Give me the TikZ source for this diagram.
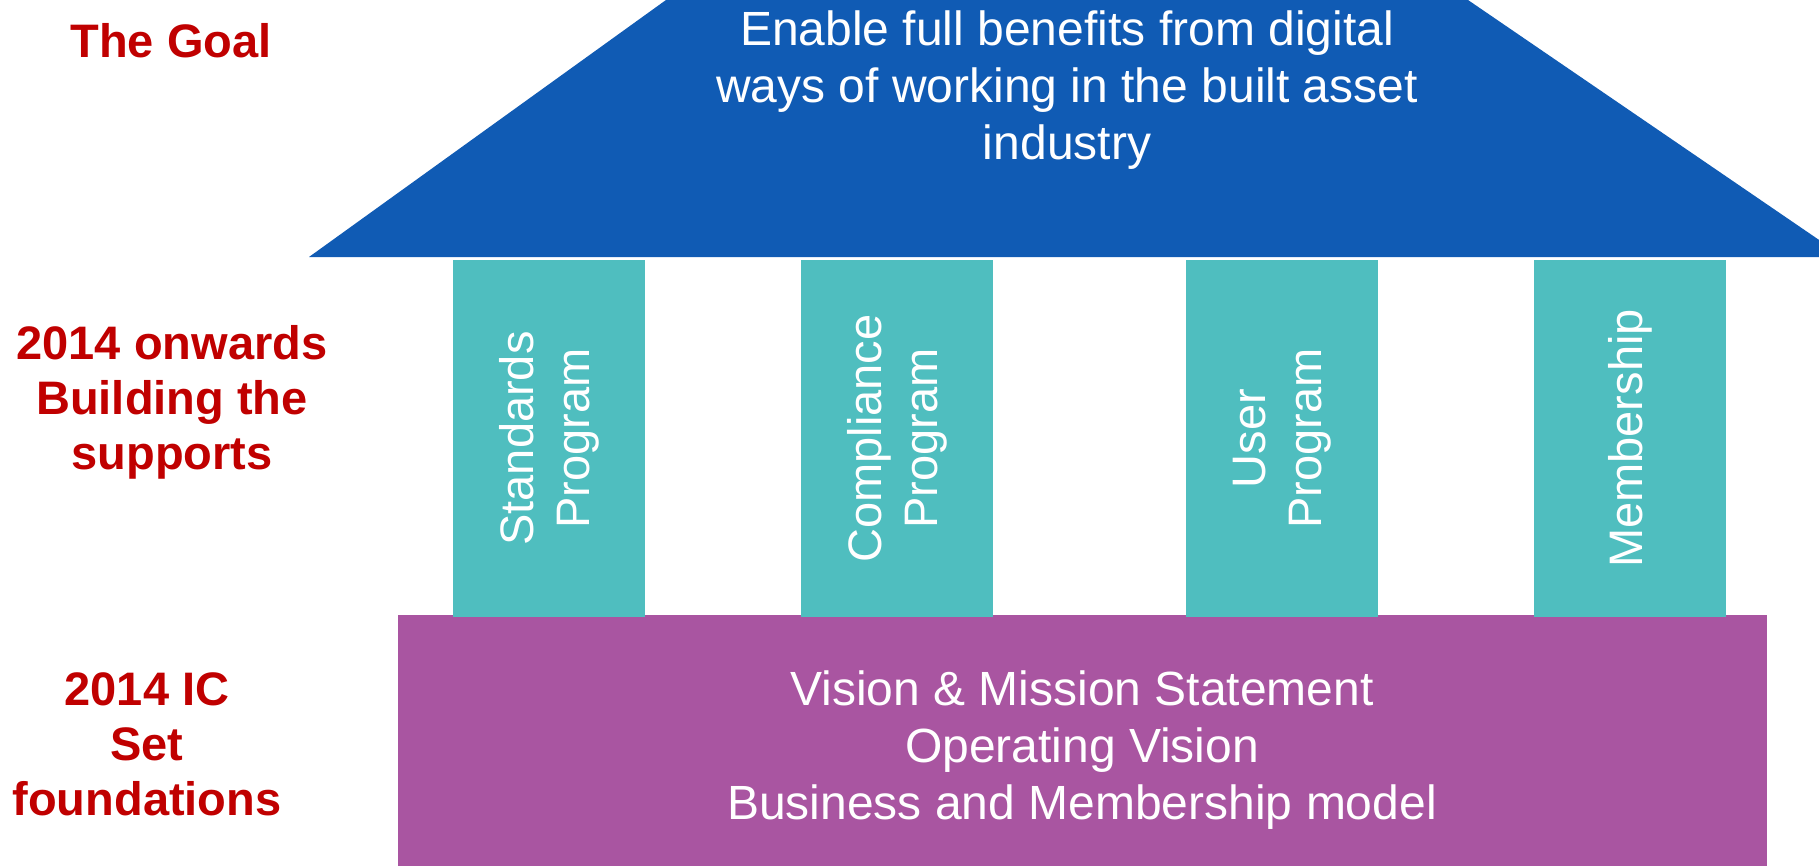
\documentclass[tikz,border=0pt]{standalone}
\usepackage{fontspec}
\setmainfont{Liberation Sans}
\usetikzlibrary{positioning, calc}
\definecolor{rblue}{HTML}{105BB4}
\definecolor{pteal}{HTML}{4FBEBF}
\definecolor{fpurp}{HTML}{A955A1}
\definecolor{lred}{HTML}{C00000}

\tikzset{
    pillar/.style={fill=pteal, minimum width=357pt, minimum height=192pt, inner sep=0pt,
        text=white, align=center, font=\fontsize{47}{56}\selectfont},
    bigtext/.style={text=white, align=center, inner sep=0pt, font=\fontsize{48}{57}\selectfont},
    phase/.style={text=lred, align=center, inner sep=0pt, font=\bfseries\fontsize{47}{55}\selectfont}
}

\begin{document}
\begin{tikzpicture}[x=1pt, y=-1pt]
	\useasboundingbox (0, 0) rectangle (1819, 865);
	\clip (0, 0) rectangle (1819, 865);
	
	\def\rooflow{257}
	\def\basetop{615}
	
	% roof
	\coordinate (R1) at (309, \rooflow);
	\coordinate (R2) at (666, 0);
	\coordinate (R3) at (1468, 0);
	\coordinate (R4) at (1844, \rooflow);
	\fill[rblue] (R1) -- (R2) -- (R3) -- (R4) -- cycle;
	
	% foundation
	\fill[fpurp] (398, \basetop) rectangle (1767, 880);
	
	% supports
	\foreach \x/\name/\txt in {549/std/{Standards\\Program}, 897/cmp/{Compliance\\Program}, 1282/usr/{User\\Program}, 1630/mem/{Membership}}{
		\node[pillar, rotate=90] (\name) at (\x, 438.5) {\txt};
	}
	
	\node[bigtext] (goal) at (1067, 90) {Enable full benefits from digital\\ways of working in the built asset\\industry};
	\node[bigtext] (found) at (1082, 750) {Vision \& Mission Statement\\Operating Vision\\Business and Membership model};
	
	% phase labels
	\node[phase] (lgoal) at (171, 41) {The Goal};
	\node[phase] (lsupp) at (172, 402) {2014 onwards\\Building the\\supports};
	\node[phase] (lfound) at (147, 744) {2014 IC\\Set\\foundations};
\end{tikzpicture}
\end{document}
